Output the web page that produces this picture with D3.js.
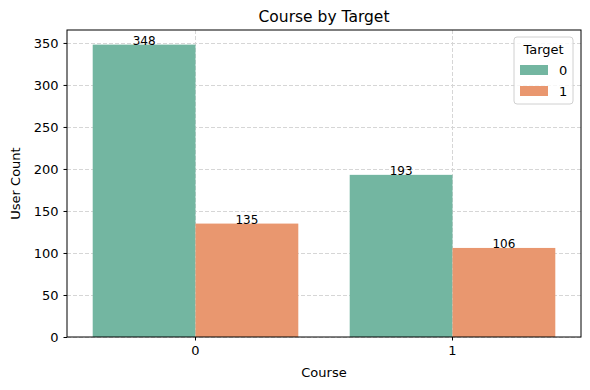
<!DOCTYPE html>
<html>
<head>
<meta charset="utf-8">
<title>Course by Target</title>
<script src="https://cdn.jsdelivr.net/npm/d3@7"></script>
<style>
  body { margin: 0; background: #fff; }
  svg { font-family: "DejaVu Sans", sans-serif; }
</style>
</head>
<body>
<svg id="chart" width="590" height="390"></svg>
<script>
// data
var courses = ['0', '1'];
var targets = ['0', '1'];
var counts0 = [348, 193];   // Target 0
var counts1 = [135, 106];   // Target 1
var yTicks = [0, 50, 100, 150, 200, 250, 300, 350];
var colors = ['#73b6a1', '#e9976f'];

var margin = {top: 30, right: 9, bottom: 53, left: 67};
var svg = d3.select('#chart');
var width = +svg.attr('width') - margin.left - margin.right;
var height = +svg.attr('height') - margin.top - margin.bottom;
var g = svg.append('g')
    .attr('transform', 'translate(' + margin.left + ',' + margin.top + ')');

var data = [];
courses.forEach(function (c, i) {
  data.push({course: c, target: targets[0], value: counts0[i]});
  data.push({course: c, target: targets[1], value: counts1[i]});
});

var x = d3.scaleBand().domain(courses).range([0, width]).paddingInner(0.2).paddingOuter(0.1);
var xInner = d3.scaleBand().domain(targets).range([0, x.bandwidth()]);
var y = d3.scaleLinear().domain([0, 348 * 1.05]).range([height, 0]);

//gridlines
g.append('g').selectAll('line')
  .data(yTicks).enter().append('line')
  .attr('x1', 0).attr('x2', width)
  .attr('y1', d => Math.round(y(d)) + 0.5).attr('y2', d => Math.round(y(d)) + 0.5)
  .attr('stroke', '#d6d6d6').attr('stroke-dasharray', '4,2');
g.append('g').selectAll('line')
  .data(courses).enter().append('line')
  .attr('x1', d => x(d) + x.bandwidth() / 2).attr('x2', d => x(d) + x.bandwidth() / 2)
  .attr('y1', 0).attr('y2', height)
  .attr('stroke', '#d6d6d6').attr('stroke-dasharray', '4,2');

//bars
g.selectAll('rect.bar')
  .data(data).enter().append('rect')
  .attr('class', 'bar')
  .attr('x', d => x(d.course) + xInner(d.target))
  .attr('y', d => y(d.value))
  .attr('width', xInner.bandwidth())
  .attr('height', d => height - y(d.value))
  .attr('fill', d => colors[targets.indexOf(d.target)]);

//value labels
g.selectAll('text.val')
  .data(data).enter().append('text')
  .attr('class', 'val')
  .attr('x', d => x(d.course) + xInner(d.target) + xInner.bandwidth() / 2)
  .attr('y', d => y(d.value) + 0.5)
  .attr('text-anchor', 'middle')
  .attr('font-size', '12px')
  .attr('fill', '#000')
  .text(d => d.value);

//axes
var xAxis = g.append('g')
  .attr('transform', 'translate(0,' + height + ')')
  .call(d3.axisBottom(x).tickSize(3.5).tickPadding(5));
var yAxis = g.append('g')
  .call(d3.axisLeft(y).tickValues(yTicks).tickSize(3.5).tickPadding(5));
[xAxis, yAxis].forEach(function (a) {
  a.select('.domain').remove();
  a.selectAll('text').attr('font-size', '13px').attr('font-family', '"DejaVu Sans", sans-serif').attr('fill', '#000');
  a.selectAll('line').attr('stroke', '#000');
});

//frame
g.append('rect')
  .attr('x', 0).attr('y', 0).attr('width', width).attr('height', height)
  .attr('fill', 'none').attr('stroke', '#000').attr('stroke-width', 1);

//titles
g.append('text')
  .attr('x', width / 2).attr('y', -8)
  .attr('text-anchor', 'middle').attr('font-size', '15.5px')
  .text('Course by Target');
g.append('text')
  .attr('x', width / 2).attr('y', height + 40)
  .attr('text-anchor', 'middle').attr('font-size', '13px')
  .text('Course');
g.append('text')
  .attr('transform', 'rotate(-90)')
  .attr('x', -height / 2).attr('y', -47)
  .attr('text-anchor', 'middle').attr('font-size', '13px')
  .text('User Count');

//legend
var lg = g.append('g').attr('transform', 'translate(' + (width - 67) + ',7)');
lg.append('rect')
  .attr('width', 59).attr('height', 67).attr('rx', 3)
  .attr('fill', '#fff').attr('fill-opacity', 0.8)
  .attr('stroke', '#d0d0d0');
lg.append('text')
  .attr('x', 29.5).attr('y', 17)
  .attr('text-anchor', 'middle').attr('font-size', '13px')
  .text('Target');
targets.forEach(function (t, i) {
  lg.append('rect')
    .attr('x', 6).attr('y', 28 + i * 21)
    .attr('width', 28).attr('height', 10)
    .attr('fill', colors[i]);
  lg.append('text')
    .attr('x', 45).attr('y', 38 + i * 21)
    .attr('font-size', '13px')
    .text(t);
});
</script>
</body>
</html>
